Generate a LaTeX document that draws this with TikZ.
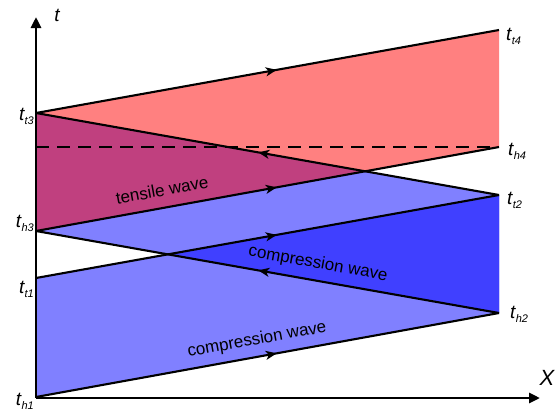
\documentclass[tikz,border=0pt]{standalone}
\usepackage{fontspec}
\setmainfont{Liberation Sans}
\usetikzlibrary{arrows.meta,decorations.markings,intersections,calc}
\definecolor{lblue}{HTML}{8080FF}
\definecolor{dblue}{HTML}{4040FF}
\definecolor{lred}{HTML}{FF8080}
\definecolor{purp}{HTML}{C0407F}
\newcommand\tlab[1]{{\fontsize{19}{19}\selectfont\itshape t\kern0.3pt\raisebox{-4pt}{\fontsize{11}{11}\selectfont #1}}}
\begin{document}
\begin{tikzpicture}[x=1pt,y=-1pt,
  wave/.style={line width=2.1pt, postaction={decorate},
    decoration={markings, mark=at position 0.52 with {\arrow{Stealth[length=11pt,width=9pt,inset=3pt]}}}},
  axisline/.style={line width=2.8pt,-{Triangle[length=11pt,width=10pt]}},
  lbl/.style={inner sep=0pt},
  wtext/.style={font=\fontsize{17}{17}\selectfont, inner sep=0pt}]
\useasboundingbox (0,0) rectangle (557,413);
% key points
\coordinate (O) at (36,398);
\coordinate (h1) at (36,397);
\coordinate (t1) at (36,278);
\coordinate (h3) at (36,231);
\coordinate (t3) at (36,113);
\coordinate (h2) at (499,313);
\coordinate (t2) at (499,195);
\coordinate (h4) at (499,147);
\coordinate (t4) at (499,30);
\coordinate (d0) at (36,147);
\coordinate (X) at (intersection of h3--h4 and t2--t3);
\coordinate (Y) at (intersection of t1--t2 and h2--h3);
\coordinate (ytop) at (36,17);
\coordinate (xend) at (540,398);
% fills
\fill[lblue] (h1) -- (h2) -- (t2) -- (t1) -- cycle;
\fill[lblue] (h2) -- (h3) -- (t3) -- (t2) -- cycle;
\fill[dblue] (Y) -- (t2) -- (h2) -- cycle;
\fill[lred] (h3) -- (h4) -- (t4) -- (t3) -- cycle;
\fill[purp] (t3) -- (X) -- (h3) -- cycle;
% dashed line
\draw[line width=2.4pt, dash pattern=on 13pt off 8pt] (d0) -- (h4);
% waves
\draw[wave] (h1) -- (h2);
\draw[wave] (t1) -- (t2);
\draw[wave] (h2) -- (h3);
\draw[wave] (t2) -- (t3);
\draw[wave] (h3) -- (h4);
\draw[wave] (t3) -- (t4);
% axes
\draw[axisline] (O) -- (ytop);
\draw[axisline] (O) -- (xend);
\node[lbl] (tl) at (57,15) {\fontsize{19}{19}\selectfont\itshape t};
\node[lbl] (xl) at (547,378) {\fontsize{22}{22}\selectfont\itshape X};
% labels
\node[lbl, anchor=east] (Lt3) at (34,116) {\tlab{t3}};
\node[lbl, anchor=east] (Lh3) at (34,223) {\tlab{h3}};
\node[lbl, anchor=east] (Lt1) at (34,289) {\tlab{t1}};
\node[lbl, anchor=east] (Lh1) at (34,401) {\tlab{h1}};
\node[lbl, anchor=west] (Lt4) at (506,36) {\tlab{t4}};
\node[lbl, anchor=west] (Lh4) at (508,151) {\tlab{h4}};
\node[lbl, anchor=west] (Lt2) at (507,200) {\tlab{t2}};
\node[lbl, anchor=west] (Lh2) at (510,314) {\tlab{h2}};
% wave texts
\node[wtext, rotate=10.2] (tw) at (162,190) {tensile wave};
\node[wtext, rotate=-10.1] (cw1) at (318,264) {compression wave};
\node[wtext, rotate=10.2] (cw2) at (257,340) {compression wave};
\end{tikzpicture}
\end{document}
